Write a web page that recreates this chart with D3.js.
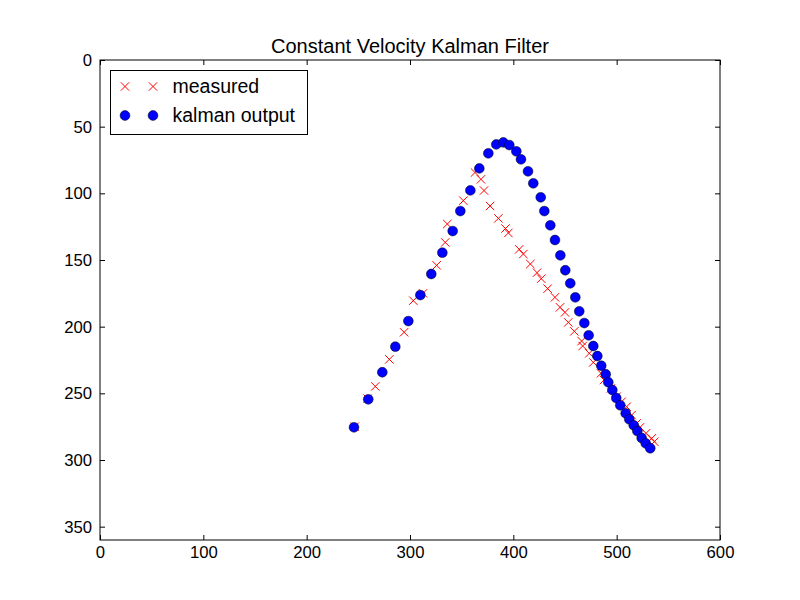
<!DOCTYPE html>
<html>
<head>
<meta charset="utf-8">
<script src="https://cdn.jsdelivr.net/npm/d3@7"></script>
<style>
  body { margin: 0; background: #fff; }
  svg { display: block; font-family: "Liberation Sans", Arial, sans-serif; }
</style>
</head>
<body>
<div id="chart"></div>
<script>
// ---- data ----
const measuredX = [246.5, 259.0, 266.4, 280.0, 294.3, 303.2, 312.6, 325.8, 334.1, 336.1, 351.6, 362.9,
  368.7, 371.6, 377.5, 385.5, 392.4, 395.2, 405.7, 409.7, 416.5, 422.9, 427.0, 433.2, 440.3, 445.2,
  450.0, 453.2, 459.0, 466.1, 467.1, 473.5, 477.4, 484.8, 487.7, 494.5, 500.0, 504.8, 509.7, 514.5,
  519.4, 522.6, 528.4, 533.9, 536.4];
const measuredY = [275.0, 254.0, 244.8, 224.5, 204.2, 180.5, 175.0, 154.0, 136.8, 123.0, 105.5, 84.4,
  89.5, 97.9, 109.5, 118.8, 126.4, 129.7, 142.0, 145.5, 153.0, 159.5, 164.0, 171.5, 178.0, 185.5,
  189.3, 196.8, 203.5, 210.8, 214.5, 220.0, 226.8, 235.0, 240.0, 246.3, 252.5, 256.3, 260.0, 266.3,
  272.5, 275.5, 280.0, 283.8, 286.3];

const kalmanX = [245.8, 259.6, 273.2, 285.8, 298.4, 310.0, 320.6, 331.3, 341.3, 348.7, 358.4, 367.1,
  375.8, 383.5, 390.3, 396.1, 402.9, 407.4, 414.2, 419.3, 426.5, 430.0, 435.8, 440.3, 445.5, 450.3,
  455.1, 460.0, 463.8, 468.7, 472.9, 477.4, 481.3, 485.1, 489.4, 491.9, 495.8, 499.6, 503.5, 508.7,
  512.2, 516.5, 520.0, 524.2, 528.1, 532.5];
const kalmanY = [275.5, 254.5, 234.2, 215.0, 195.8, 176.3, 160.5, 144.5, 128.3, 113.3, 97.8, 81.3,
  70.0, 63.3, 61.8, 63.8, 68.5, 74.5, 83.5, 92.5, 103.0, 113.3, 124.0, 135.0, 146.5, 157.7,
  167.5, 178.0, 188.5, 197.3, 206.5, 214.5, 222.0, 229.3, 235.7, 241.7, 247.5, 253.5, 259.0, 265.0,
  269.5, 274.0, 278.3, 283.5, 287.5, 291.2];

const xTicks = [0, 100, 200, 300, 400, 500, 600];
const yTicks = [0, 50, 100, 150, 200, 250, 300, 350];
const legendLabels = ["measured", "kalman output"];
const title = "Constant Velocity Kalman Filter";

// ---- layout ----
const W = 800, H = 600;
const margin = { top: 60, right: 80, bottom: 60, left: 100 };
const width = W - margin.left - margin.right;
const height = H - margin.top - margin.bottom;

const svg = d3.select("#chart").append("svg")
  .attr("width", W)
  .attr("height", H);

const g = svg.append("g")
  .attr("transform", `translate(${margin.left},${margin.top})`);

const x = d3.scaleLinear().domain([0, 600]).range([0, width]);
const y = d3.scaleLinear().domain([0, 360]).range([0, height]); // inverted y: 0 at top

const measured = measuredX.map((v, i) => ({ x: v, y: measuredY[i] }));
const kalman = kalmanX.map((v, i) => ({ x: v, y: kalmanY[i] }));

const crossSize = 4.2, dotR = 4.9;
const crossPath = s => `M${-s},${-s}L${s},${s}M${-s},${s}L${s},${-s}`;

// measured crosses
g.append("g").selectAll("path")
  .data(measured)
  .join("path")
  .attr("transform", d => `translate(${x(d.x)},${y(d.y)})`)
  .attr("d", crossPath(crossSize))
  .attr("fill", "none")
  .attr("stroke", "#ff0000")
  .attr("stroke-width", 1);

// kalman dots
g.append("g").selectAll("circle")
  .data(kalman)
  .join("circle")
  .attr("cx", d => x(d.x))
  .attr("cy", d => y(d.y))
  .attr("r", dotR)
  .attr("fill", "#0000ff")
  .attr("stroke", "#000")
  .attr("stroke-width", 0.5);

// axes: ticks point inward, on all 4 sides
const tickLen = 5;
function styleAxis(sel) {
  sel.select(".domain").remove();
  sel.selectAll("line").attr("stroke", "#000").attr("stroke-width", 1);
  sel.selectAll("text").attr("fill", "#000").style("font-size", "16.7px");
}

g.append("g")
  .attr("transform", `translate(0,${height})`)
  .call(d3.axisBottom(x).tickValues(xTicks).tickSizeInner(-tickLen).tickSizeOuter(0).tickPadding(5))
  .call(styleAxis)
  .selectAll("text").attr("dy", "0.75em");

g.append("g")
  .call(d3.axisTop(x).tickValues(xTicks).tickSizeInner(-tickLen).tickSizeOuter(0).tickFormat(""))
  .call(styleAxis);

g.append("g")
  .call(d3.axisLeft(y).tickValues(yTicks).tickSizeInner(-tickLen).tickSizeOuter(0).tickPadding(8))
  .call(styleAxis);

g.append("g")
  .attr("transform", `translate(${width},0)`)
  .call(d3.axisRight(y).tickValues(yTicks).tickSizeInner(-tickLen).tickSizeOuter(0).tickFormat(""))
  .call(styleAxis);

// frame
g.append("rect")
  .attr("width", width)
  .attr("height", height)
  .attr("fill", "none")
  .attr("stroke", "#000")
  .attr("stroke-width", 1);

// title
svg.append("text")
  .attr("x", margin.left + width / 2)
  .attr("y", margin.top - 7)
  .attr("text-anchor", "middle")
  .style("font-size", "20px")
  .text(title);

// legend
const legend = g.append("g").attr("transform", "translate(10.5,10.5)");
legend.append("rect")
  .attr("width", 197)
  .attr("height", 64)
  .attr("fill", "#fff")
  .attr("stroke", "#000")
  .attr("stroke-width", 1);

const rowY = [16, 45];
const markX = [14.5, 42.5];
legendLabels.forEach((label, i) => {
  const row = legend.append("g").attr("transform", `translate(0,${rowY[i]})`);
  markX.forEach(mx => {
    if (i === 0) {
      row.append("path")
        .attr("transform", `translate(${mx},0)`)
        .attr("d", crossPath(crossSize))
        .attr("fill", "none")
        .attr("stroke", "#ff0000")
        .attr("stroke-width", 1);
    } else {
      row.append("circle")
        .attr("cx", mx)
        .attr("r", dotR)
        .attr("fill", "#0000ff")
        .attr("stroke", "#000")
        .attr("stroke-width", 0.5);
    }
  });
  row.append("text")
    .attr("x", 62)
    .attr("dy", "0.35em")
    .style("font-size", "19.5px")
    .text(label);
});
</script>
</body>
</html>
